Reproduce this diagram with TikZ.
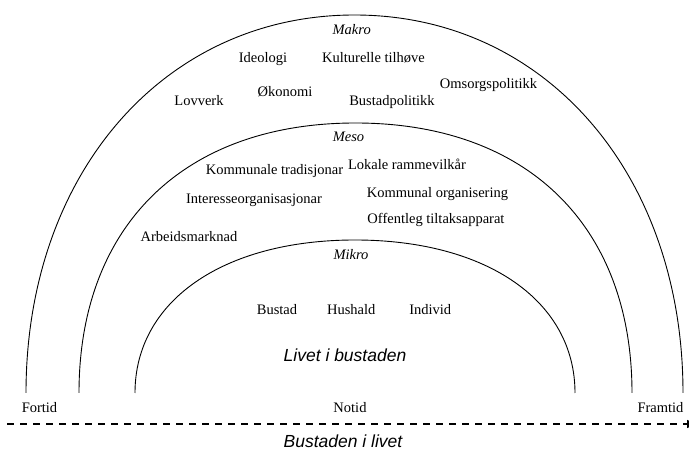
\documentclass[tikz,border=0pt]{standalone}
\usepackage{fontspec}
\setmainfont{Liberation Serif}
\newfontfamily\arialfont{Liberation Sans}
\usepackage{tikz}
\usetikzlibrary{arrows.meta, positioning}

\begin{document}
\begin{tikzpicture}[x=1pt, y=1pt, line width=0.9pt,
    lbl/.style={font=\fontsize{14.5}{16}\selectfont, inner sep=0pt, anchor=base},
    lvl/.style={lbl, font=\fontsize{14.5}{16}\selectfont\itshape},
    caption/.style={font=\arialfont\itshape\fontsize{17.5}{20}\selectfont, inner sep=0pt, anchor=base},
    timeline/.style={line width=1.1pt, dash pattern=on 7pt off 6pt, -{Triangle[length=10pt, width=8pt]}}]

    \fill [white] (0,0) rectangle (689,455);
    \useasboundingbox (0,0) rectangle (689,455);

    % arches
    \draw (26,62) .. controls (26,281.2) and (164,440) .. (354.5,440)
                  .. controls (545,440) and (683,281.2) .. (683,62);
    \draw (79,62) .. controls (79,229.4) and (184.1,332) .. (355.5,332)
                  .. controls (526.9,332) and (632,229.4) .. (632,62);
    \draw (135,62) .. controls (135,153.8) and (223,215) .. (355,215)
                   .. controls (487,215) and (575,153.8) .. (575,62);

    % makro
    \node (makro) [lvl] at (351.7,420.7) {Makro};
    \node (ideologi) [lbl] at (263,392.3) {Ideologi};
    \node (kultur) [lbl] at (373.5,392.3) {Kulturelle tilhøve};
    \node (omsorg) [lbl] at (488.6,366.7) {Omsorgspolitikk};
    \node (okonomi) [lbl] at (285,358.3) {Økonomi};
    \node (lovverk) [lbl] at (199,349) {Lovverk};
    \node (bustadpol) [lbl] at (392,349) {Bustadpolitikk};

    % meso
    \node (meso) [lvl] at (348.5,313.3) {Meso};
    \node (lokale) [lbl] at (407,285.7) {Lokale rammevilkår};
    \node (ktrad) [lbl] at (274.5,280) {Kommunale tradisjonar};
    \node (korg) [lbl] at (437.5,257.7) {Kommunal organisering};
    \node (interesse) [lbl] at (254,251.7) {Interesseorganisasjonar};
    \node (offentleg) [lbl] at (436,231.7) {Offentleg tiltaksapparat};
    \node (arbeid) [lbl] at (189,213.3) {Arbeidsmarknad};

    % mikro
    \node (mikro) [lvl] at (351,195) {Mikro};
    \node (bustad) [lbl] at (277,140) {Bustad};
    \node (hushald) [lbl, base right=29pt of bustad] {Hushald};
    \node (individ) [lbl, base right=33pt of hushald] {Individ};
    \node (livet) [caption] at (345,93) {Livet i bustaden};

    % tidslinje
    \node (fortid) [lbl] at (39.5,42) {Fortid};
    \node (notid) [lbl] at (350,42) {Notid};
    \node (framtid) [lbl] at (660.5,42) {Framtid};
    \coordinate (tstart) at (7,31);
    \coordinate (tend) at (697,31);
    \draw [timeline] (tstart) -- (tend);
    \node (bustlivet) [caption] at (343,7) {Bustaden i livet};
\end{tikzpicture}
\end{document}
